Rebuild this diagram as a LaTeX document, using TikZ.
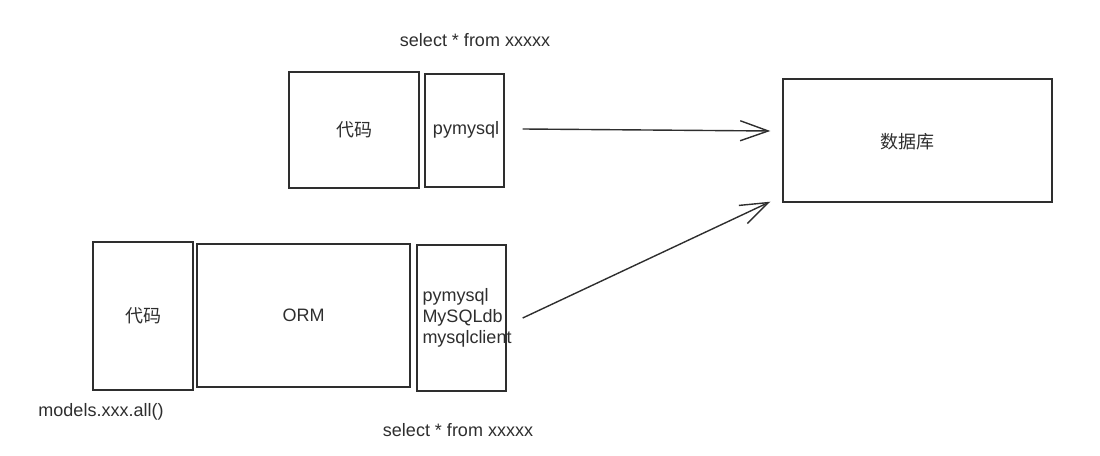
\documentclass[tikz,border=0pt]{standalone}
\usepackage{fontspec}
\setmainfont{Liberation Sans}
\newfontfamily\cjk{Noto Sans CJK SC}
\usetikzlibrary{arrows.meta}
\definecolor{ink}{HTML}{2E2E2E}
\tikzset{
  sketchbox/.style={draw=ink, line width=1.4pt, inner sep=0pt, fill=none},
  lbl/.style={font=\fontsize{18}{21}\selectfont, text=ink, inner sep=0pt},
  conn/.style={draw=ink, line width=1.4pt, -{Straight Barb[length=28pt,width=20pt,line width=1.4pt]}}
}
\begin{document}
\begin{tikzpicture}[x=1pt,y=1pt]
\useasboundingbox (0,0) rectangle (1100,455);
% top row
\node[sketchbox, minimum width=130pt, minimum height=116pt] (tcode) at (354,325) {};
\node[lbl] at (tcode.center) {\cjk 代码};
\node[sketchbox, minimum width=79pt, minimum height=113pt] (pym) at (464.5,324.5) {};
\node[lbl] (pymtxt) at (466,325) {pymysql};
\node[lbl] (tsel) at (475,415) {select * from xxxxx};
% database
\node[sketchbox, minimum width=269pt, minimum height=123pt] (db) at (917.5,314.5) {};
\node[lbl] (dbtxt) at (907,313) {\cjk 数据库};
% bottom row
\node[sketchbox, minimum width=100pt, minimum height=148pt] (bcode) at (143,139) {};
\node[lbl] at (bcode.center) {\cjk 代码};
\node[sketchbox, minimum width=213pt, minimum height=143pt] (orm) at (303.5,139.5) {};
\node[lbl] at (orm.center) {ORM};
\node[sketchbox, minimum width=89pt, minimum height=146pt] (drv) at (461.5,137) {};
\node[lbl, anchor=west, align=left] (drvtxt) at ([xshift=6pt]drv.west) {pymysql\\MySQLdb\\mysqlclient};
\node[lbl] (models) at (101,43) {models.xxx.all()};
\node[lbl] (bsel) at (458,25) {select * from xxxxx};
% connectors
\coordinate (a1s) at ([xshift=18pt,yshift=1.5pt]pym.east);
\coordinate (a1e) at ([xshift=-12pt,yshift=9.5pt]db.west);
\draw[conn] (a1s) -- (a1e);
\coordinate (a2s) at ([xshift=16pt]drv.east);
\coordinate (a2e) at ([xshift=-12pt,yshift=1pt]db.south west);
\draw[conn] (a2s) -- (a2e);
\end{tikzpicture}
\end{document}
